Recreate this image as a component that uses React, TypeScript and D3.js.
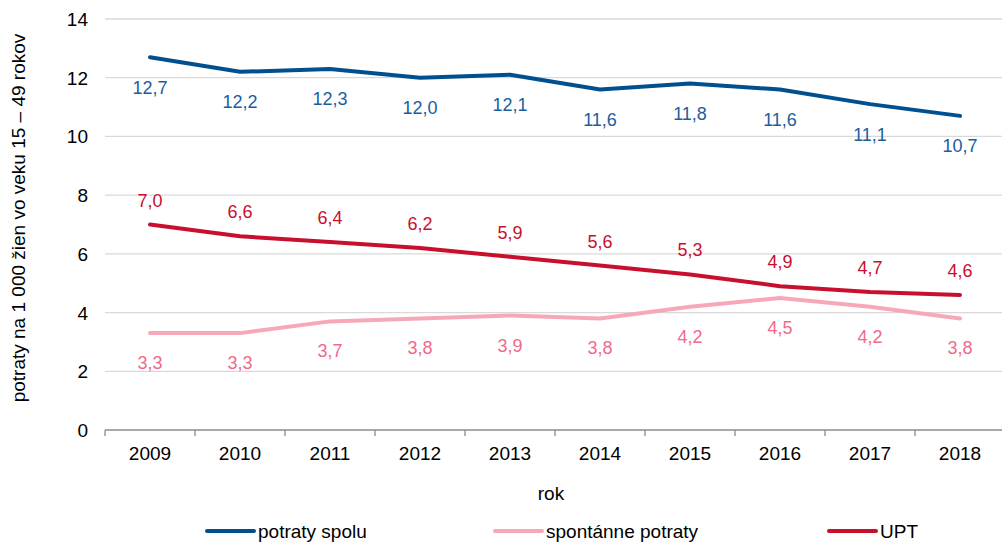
import React from "react";
import * as d3 from "d3";

const years = ["2009", "2010", "2011", "2012", "2013", "2014", "2015", "2016", "2017", "2018"];
const spolu = [12.7, 12.2, 12.3, 12.0, 12.1, 11.6, 11.8, 11.6, 11.1, 10.7];
const spontanne = [3.3, 3.3, 3.7, 3.8, 3.9, 3.8, 4.2, 4.5, 4.2, 3.8];
const upt = [7.0, 6.6, 6.4, 6.2, 5.9, 5.6, 5.3, 4.9, 4.7, 4.6];
const yTicks = [0, 2, 4, 6, 8, 10, 12, 14];

const seriesNames = ["potraty spolu", "spontánne potraty", "UPT"];

const W = 1002, H = 544;
const FONT = "'Liberation Sans', Arial, sans-serif";

export default function App() {
  const x = d3.scaleBand<string>().domain(years).range([105, 1005]);
  const y = d3.scaleLinear().domain([0, 14]).range([430, 19]);
  const line = d3.line<number>().x((_, i) => x(years[i])! + x.bandwidth() / 2).y(d => y(d));
  const fmt = (v: number) => v.toFixed(1).replace(".", ",");

  const series = [
    { name: seriesNames[0], data: spolu, color: "#00508F", label: "#1A5E9E", dy: 36.5, lx: 207 },
    { name: seriesNames[1], data: spontanne, color: "#F7A8B8", label: "#F06A88", dy: 36, lx: 495 },
    { name: seriesNames[2], data: upt, color: "#C8102E", label: "#C8102E", dy: -18, lx: 829 },
  ];

  return (
    <svg width={W} height={H} style={{ position: "absolute", left: 0, top: 0, display: "block" }} fontFamily={FONT}>
      <rect width={W} height={H} fill="#fff" />
      {yTicks.filter(t => t > 0).map(t => (
        <line key={t} x1={105} x2={1005} y1={y(t)} y2={y(t)} stroke="#D9D9D9" strokeWidth={1.3} />
      ))}
      <line x1={105} x2={1005} y1={y(0)} y2={y(0)} stroke="#8C8C8C" strokeWidth={1.3} />
      {years.map(yr => (
        <line key={"t" + yr} x1={x(yr)!} x2={x(yr)!} y1={430} y2={436} stroke="#8C8C8C" strokeWidth={1.3} />
      ))}
      {yTicks.map(t => (
        <text key={"yl" + t} x={88} y={y(t) + 7} textAnchor="end" fontSize={19} fill="#000">{t}</text>
      ))}
      {years.map(yr => (
        <text key={"xl" + yr} x={x(yr)! + x.bandwidth() / 2} y={460} textAnchor="middle" fontSize={19} fill="#000">{yr}</text>
      ))}
      <text x={551} y={500} textAnchor="middle" fontSize={19} fill="#000">rok</text>
      <text transform="translate(25,218) rotate(-90)" textAnchor="middle" fontSize={19} fill="#000">potraty na 1 000 žien vo veku 15 – 49 rokov</text>
      {series.map(s => (
        <g key={s.name}>
          <path d={line(s.data)!} fill="none" stroke={s.color} strokeWidth={4} strokeLinecap="round" strokeLinejoin="round" />
          {s.data.map((v, i) => (
            <text key={i} x={x(years[i])! + x.bandwidth() / 2} y={y(v) + s.dy} textAnchor="middle" fontSize={18} fill={s.label}>{fmt(v)}</text>
          ))}
          <line x1={s.lx} x2={s.lx + 47} y1={531} y2={531} stroke={s.color} strokeWidth={4} strokeLinecap="round" />
          <text x={s.lx + 51} y={538} fontSize={19} fill="#000">{s.name}</text>
        </g>
      ))}
    </svg>
  );
}
